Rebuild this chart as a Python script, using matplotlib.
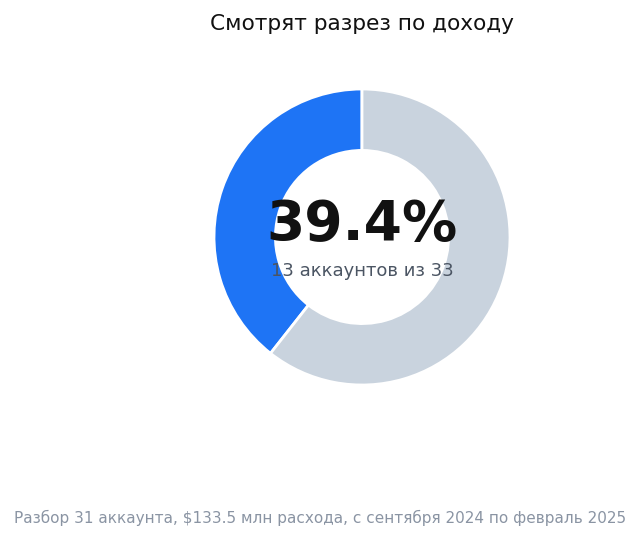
import os
import matplotlib
matplotlib.use("Agg")
import matplotlib.pyplot as plt
from matplotlib.font_manager import FontProperties

ttf_dir = os.path.join(matplotlib.get_data_path(), "fonts", "ttf")
fp_reg = os.path.join(ttf_dir, "DejaVuSans.ttf")
fp_bold = os.path.join(ttf_dir, "DejaVuSans-Bold.ttf")

labels = ["Смотрят разрез по доходу", "Остальные"]
values = [13, 20]
colors = ["#1e74f5", "#c9d3de"]
title = "Смотрят разрез по доходу"
center_value = "39.4%"
center_sub = "13 аккаунтов из 33"
footer = "Разбор 31 аккаунта, $133.5 млн расхода, с сентября 2024 по февраль 2025"

W, H = 641, 541
fig = plt.figure(figsize=(W / 100, H / 100), dpi=100)
fig.patch.set_facecolor("white")

cx, cy, r = 362, 237, 148
ax = fig.add_axes([(cx - r) / W, 1 - (cy + r) / H, 2 * r / W, 2 * r / H])
ax.pie(values, colors=colors, startangle=90, counterclock=True,
       radius=1.0, wedgeprops=dict(width=0.415, edgecolor="white", linewidth=2))
ax.set_xlim(-1, 1)
ax.set_ylim(-1, 1)
ax.set_aspect("equal")
ax.axis("off")

fig.text(362 / W, 1 - 24 / H, title, ha="center", va="center",
         fontproperties=FontProperties(fname=fp_reg, size=15.6), color="#111111")
fig.text(362 / W, 1 - 225 / H, center_value, ha="center", va="center",
         fontproperties=FontProperties(fname=fp_bold, size=39.7), color="#111111")
fig.text(362 / W, 1 - 271 / H, center_sub, ha="center", va="center",
         fontproperties=FontProperties(fname=fp_reg, size=13), color="#4b5563")
fig.text(320 / W, 1 - 518 / H, footer, ha="center", va="center",
         fontproperties=FontProperties(fname=fp_reg, size=11), color="#8a94a3")

fig.savefig("out.png", dpi=100, facecolor="white")
